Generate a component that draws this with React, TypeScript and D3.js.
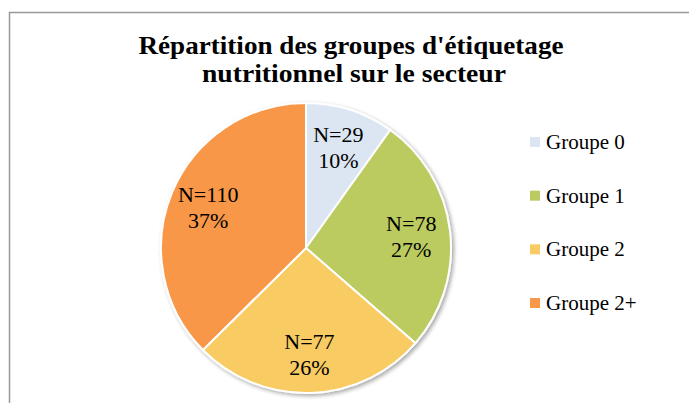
import React from "react";
import * as d3 from "d3";

const categories = ["Groupe 0", "Groupe 1", "Groupe 2", "Groupe 2+"];
const counts = [29, 78, 77, 110];
const colors = ["#DCE6F2", "#BBCB5F", "#F9CB63", "#F79747"];
const titleLines = ["Répartition des groupes d'étiquetage", "nutritionnel sur le secteur"];

const W = 689;
const H = 403;
const cx = 306;
const cy = 248;
const R = 145;
const FONT = "'Liberation Serif', 'DejaVu Serif', serif";

export default function App() {
  const total = d3.sum(counts);
  const pie = d3.pie<number>().sort(null).value((d) => d);
  const arcs = pie(counts);
  const arc = d3.arc<d3.PieArcDatum<number>>().innerRadius(0).outerRadius(R);
  const labelArc = d3.arc<d3.PieArcDatum<number>>().innerRadius(106).outerRadius(106);
  const legendY = d3.scalePoint<string>().domain(categories).range([142, 303]);

  return (
    <svg width={W} height={H} style={{ position: "absolute", left: 0, top: 0 }}>
      <defs>
        <filter id="sh" x="-20%" y="-20%" width="140%" height="140%">
          <feGaussianBlur in="SourceAlpha" stdDeviation="2" />
          <feOffset dx="1.5" dy="2" result="b" />
          <feComponentTransfer>
            <feFuncA type="linear" slope="0.35" />
          </feComponentTransfer>
          <feMerge>
            <feMergeNode />
            <feMergeNode in="SourceGraphic" />
          </feMerge>
        </filter>
      </defs>
      <rect x={0} y={0} width={W} height={H} fill="#fff" />
      <rect x={9.5} y={12.5} width={W + 20} height={H + 20} fill="none" stroke="#999" strokeWidth={1.5} />
      <g fontFamily={FONT} fontWeight="bold" fontSize={25} textAnchor="middle" fill="#000">
        <text x={351} y={54} textLength={425} lengthAdjust="spacingAndGlyphs">{titleLines[0]}</text>
        <text x={354} y={81.5} textLength={304} lengthAdjust="spacingAndGlyphs">{titleLines[1]}</text>
      </g>
      <g transform={`translate(${cx},${cy})`}>
        <g filter="url(#sh)">
          {arcs.map((a, i) => (
            <path key={i} d={arc(a) || ""} fill={colors[i]} stroke="#fff" strokeWidth={2} />
          ))}
        </g>
        {arcs.map((a, i) => {
          const [lx, ly] = labelArc.centroid(a);
          const pct = Math.round((a.data / total) * 100);
          return (
            <text key={i} fontFamily={FONT} fontSize={22} textAnchor="middle" fill="#000">
              <tspan x={lx} y={ly - 5}>{`N=${a.data}`}</tspan>
              <tspan x={lx} y={ly + 21}>{`${pct}%`}</tspan>
            </text>
          );
        })}
      </g>
      <g fontFamily={FONT} fontSize={21} fill="#000">
        {categories.map((c, i) => (
          <g key={c}>
            <rect x={530} y={(legendY(c) || 0) - 5} width={10} height={10} fill={colors[i]} />
            <text x={546} y={(legendY(c) || 0) + 7}>{c}</text>
          </g>
        ))}
      </g>
    </svg>
  );
}
